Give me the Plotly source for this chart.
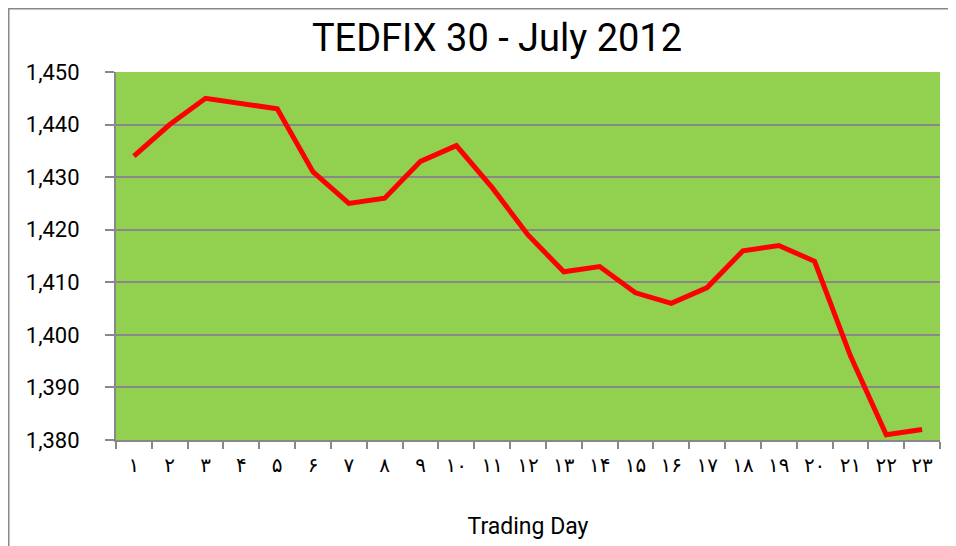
import plotly.graph_objects as go

days = ["۱", "۲", "۳", "۴", "۵", "۶", "۷", "۸", "۹", "۱۰", "۱۱", "۱۲",
        "۱۳", "۱۴", "۱۵", "۱۶", "۱۷", "۱۸", "۱۹", "۲۰", "۲۱", "۲۲", "۲۳"]
index_values = [1434, 1440, 1445, 1444, 1443, 1431, 1425, 1426, 1433, 1436, 1428, 1419,
                1412, 1413, 1408, 1406, 1409, 1416, 1417, 1414, 1396, 1381, 1382]
y_ticks = [1380, 1390, 1400, 1410, 1420, 1430, 1440, 1450]

# page body has an 8px margin, so the figure is laid out 8px up/left
OFF = 8
W, H = 956 - OFF, 546 - OFF
L, T = 116 - OFF, 72 - OFF
pw, ph = 824, 368
R, B = W - L - pw, H - T - ph

fig = go.Figure()
fig.add_trace(go.Scatter(
    x=days, y=index_values, mode="lines",
    line=dict(color="#FF0000", width=5),
    hoverinfo="x+y",
))

grey = "#888888"
fig.update_layout(
    width=W, height=H,
    margin=dict(l=L, r=R, t=T, b=B, autoexpand=False),
    paper_bgcolor="white",
    plot_bgcolor="#92D050",
    showlegend=False,
    title=dict(text="TEDFIX 30 - July 2012", x=(497 - OFF - L) / pw, xref="paper", xanchor="center",
               y=1 - (38 - OFF) / H, yanchor="middle",
               font=dict(family="Roboto", size=38, color="black")),
    xaxis=dict(
        type="category",
        range=[-0.5, len(days) - 0.5],
        tickson="boundaries",
        ticks="outside", ticklen=7, tickwidth=2, tickcolor=grey,
        showline=True, linecolor=grey, linewidth=2,
        showgrid=False,
        ticklabelstandoff=6,
        tickfont=dict(family="DejaVu Sans", size=20, color="black"),
        title=dict(text="Trading Day", standoff=42,
                   font=dict(family="Roboto", size=23, color="black")),
        automargin=False,
    ),
    yaxis=dict(
        range=[1380, 1450],
        tickvals=y_ticks,
        tickformat=",",
        ticks="outside", ticklen=9, tickwidth=2, tickcolor=grey,
        showline=True, linecolor=grey, linewidth=2,
        showgrid=True, gridcolor=grey, gridwidth=2,
        zeroline=False,
        ticklabelstandoff=21,
        tickfont=dict(family="Roboto", size=22, color="black"),
        automargin=False,
    ),
)

# outer chart border (left and top edges visible in the reference)
fig.add_shape(type="rect", xref="paper", yref="paper",
              x0=(0.5 - L) / pw, x1=(W + 20 - L) / pw,
              y0=-(H + 20 - (T + ph)) / ph, y1=1 + (T - 0.5) / ph,
              line=dict(color=grey, width=2), fillcolor="rgba(0,0,0,0)", layer="below")

fig.write_html("out.html")
